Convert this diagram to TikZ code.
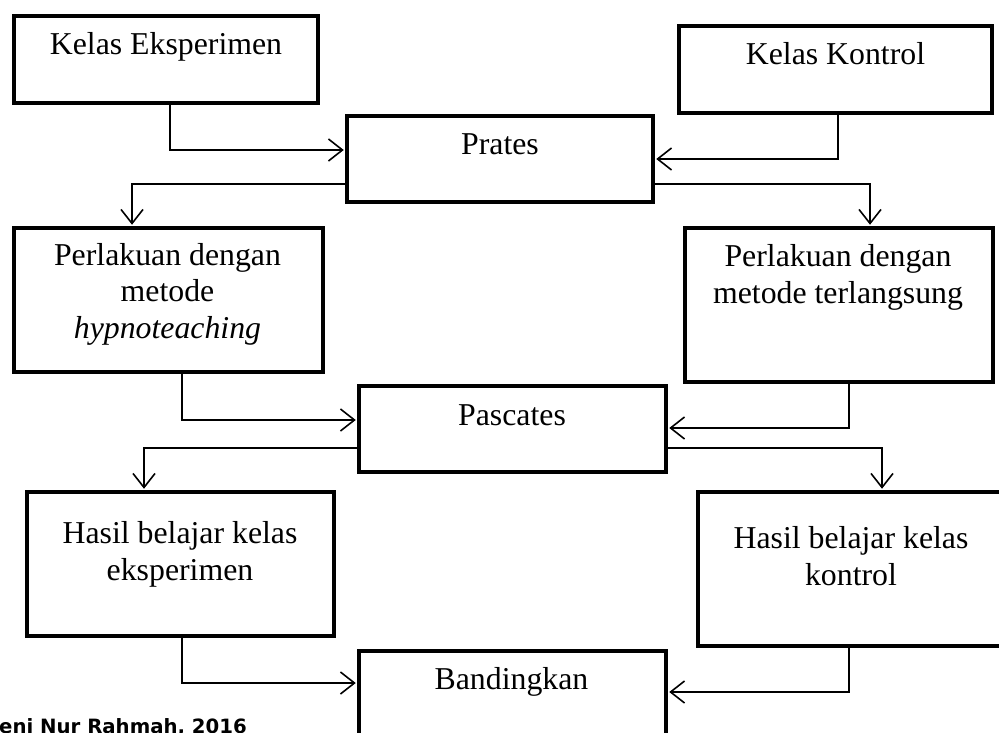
\documentclass[tikz,border=0pt]{standalone}
\usepackage{fontspec}
\setmainfont{Liberation Serif}
\newfontfamily\capfont{DejaVu Sans}
\usetikzlibrary{arrows.meta}
\tikzset{
  box/.style={draw=black, line width=4.5pt, rectangle, inner sep=0pt, fill=none},
  txt/.style={inner sep=0pt, align=center, font=\fontsize{31.8}{36.5}\selectfont},
  arr/.style={draw=black, line width=1.6pt, -{Straight Barb[length=14pt,width=22pt,line width=1.6pt]}, shorten >=1pt},
}
\begin{document}
\begin{tikzpicture}[x=1pt,y=-1pt]
\useasboundingbox (0,0) rectangle (999,733);
\clip (0,0) rectangle (999,733);
% boxes
\node[box, minimum width=304pt, minimum height=87pt] (ke) at (166,59.5) {};
\node[box, minimum width=313pt, minimum height=87pt] (kk) at (835.5,69.5) {};
\node[box, minimum width=306pt, minimum height=86pt] (pr) at (500,159) {};
\node[box, minimum width=309pt, minimum height=144pt] (pl) at (168.5,300) {};
\node[box, minimum width=308pt, minimum height=154pt] (pk) at (839,305) {};
\node[box, minimum width=307pt, minimum height=86pt] (pa) at (512.5,429) {};
\node[box, minimum width=307pt, minimum height=144pt] (hl) at (180.5,564) {};
\node[box, minimum width=306pt, minimum height=154pt] (hk) at (851,569) {};
\node[box, minimum width=307pt, minimum height=109pt] (bd) at (512.5,705.5) {};
% texts (base anchor = baseline of the last line)
\node[txt, anchor=base] (ket) at (166,55) {Kelas Eksperimen};
\node[txt, anchor=base] (kkt) at (835.5,65) {Kelas Kontrol};
\node[txt, anchor=base] (prt) at (500,155) {Prates};
\node[txt, anchor=base] (plt) at (167.5,338) {Perlakuan dengan\\metode\\\textit{hypnoteaching}};
\node[txt, anchor=base] (pkt) at (838,303) {Perlakuan dengan\\metode terlangsung};
\node[txt, anchor=base] (pat) at (512,425) {Pascates};
\node[txt, anchor=base] (hlt) at (180,580) {Hasil belajar kelas\\eksperimen};
\node[txt, anchor=base] (hkt) at (851,585) {Hasil belajar kelas\\kontrol};
\node[txt, anchor=base] (bdt) at (511.5,689) {Bandingkan};
\node[inner sep=0pt, anchor=base west, font=\capfont\bfseries\fontsize{19.7}{22}\selectfont] (cap) at (-1,733) {eni Nur Rahmah, 2016};
% connectors
\draw[arr] ([xshift=4pt]ke.south) |- ([yshift=9pt]pr.west);
\draw[arr] ([xshift=2.5pt]kk.south) |- (pr.east);
\draw[arr] ([yshift=-25pt]pr.west) -| ([xshift=-36.5pt]pl.north);
\draw[arr] ([yshift=-25pt]pr.east) -| ([xshift=31pt]pk.north);
\draw[arr] ([xshift=13.5pt]pl.south) |- ([yshift=9pt]pa.west);
\draw[arr] ([xshift=10pt]pk.south) |- ([yshift=1pt]pa.east);
\draw[arr] ([yshift=-19pt]pa.west) -| ([xshift=-36.5pt]hl.north);
\draw[arr] ([yshift=-19pt]pa.east) -| ([xshift=31pt]hk.north);
\draw[arr] ([xshift=1.5pt]hl.south) |- ([yshift=22.5pt]bd.west);
\draw[arr] ([xshift=-2pt]hk.south) |- ([yshift=13.5pt]bd.east);
\end{tikzpicture}
\end{document}
